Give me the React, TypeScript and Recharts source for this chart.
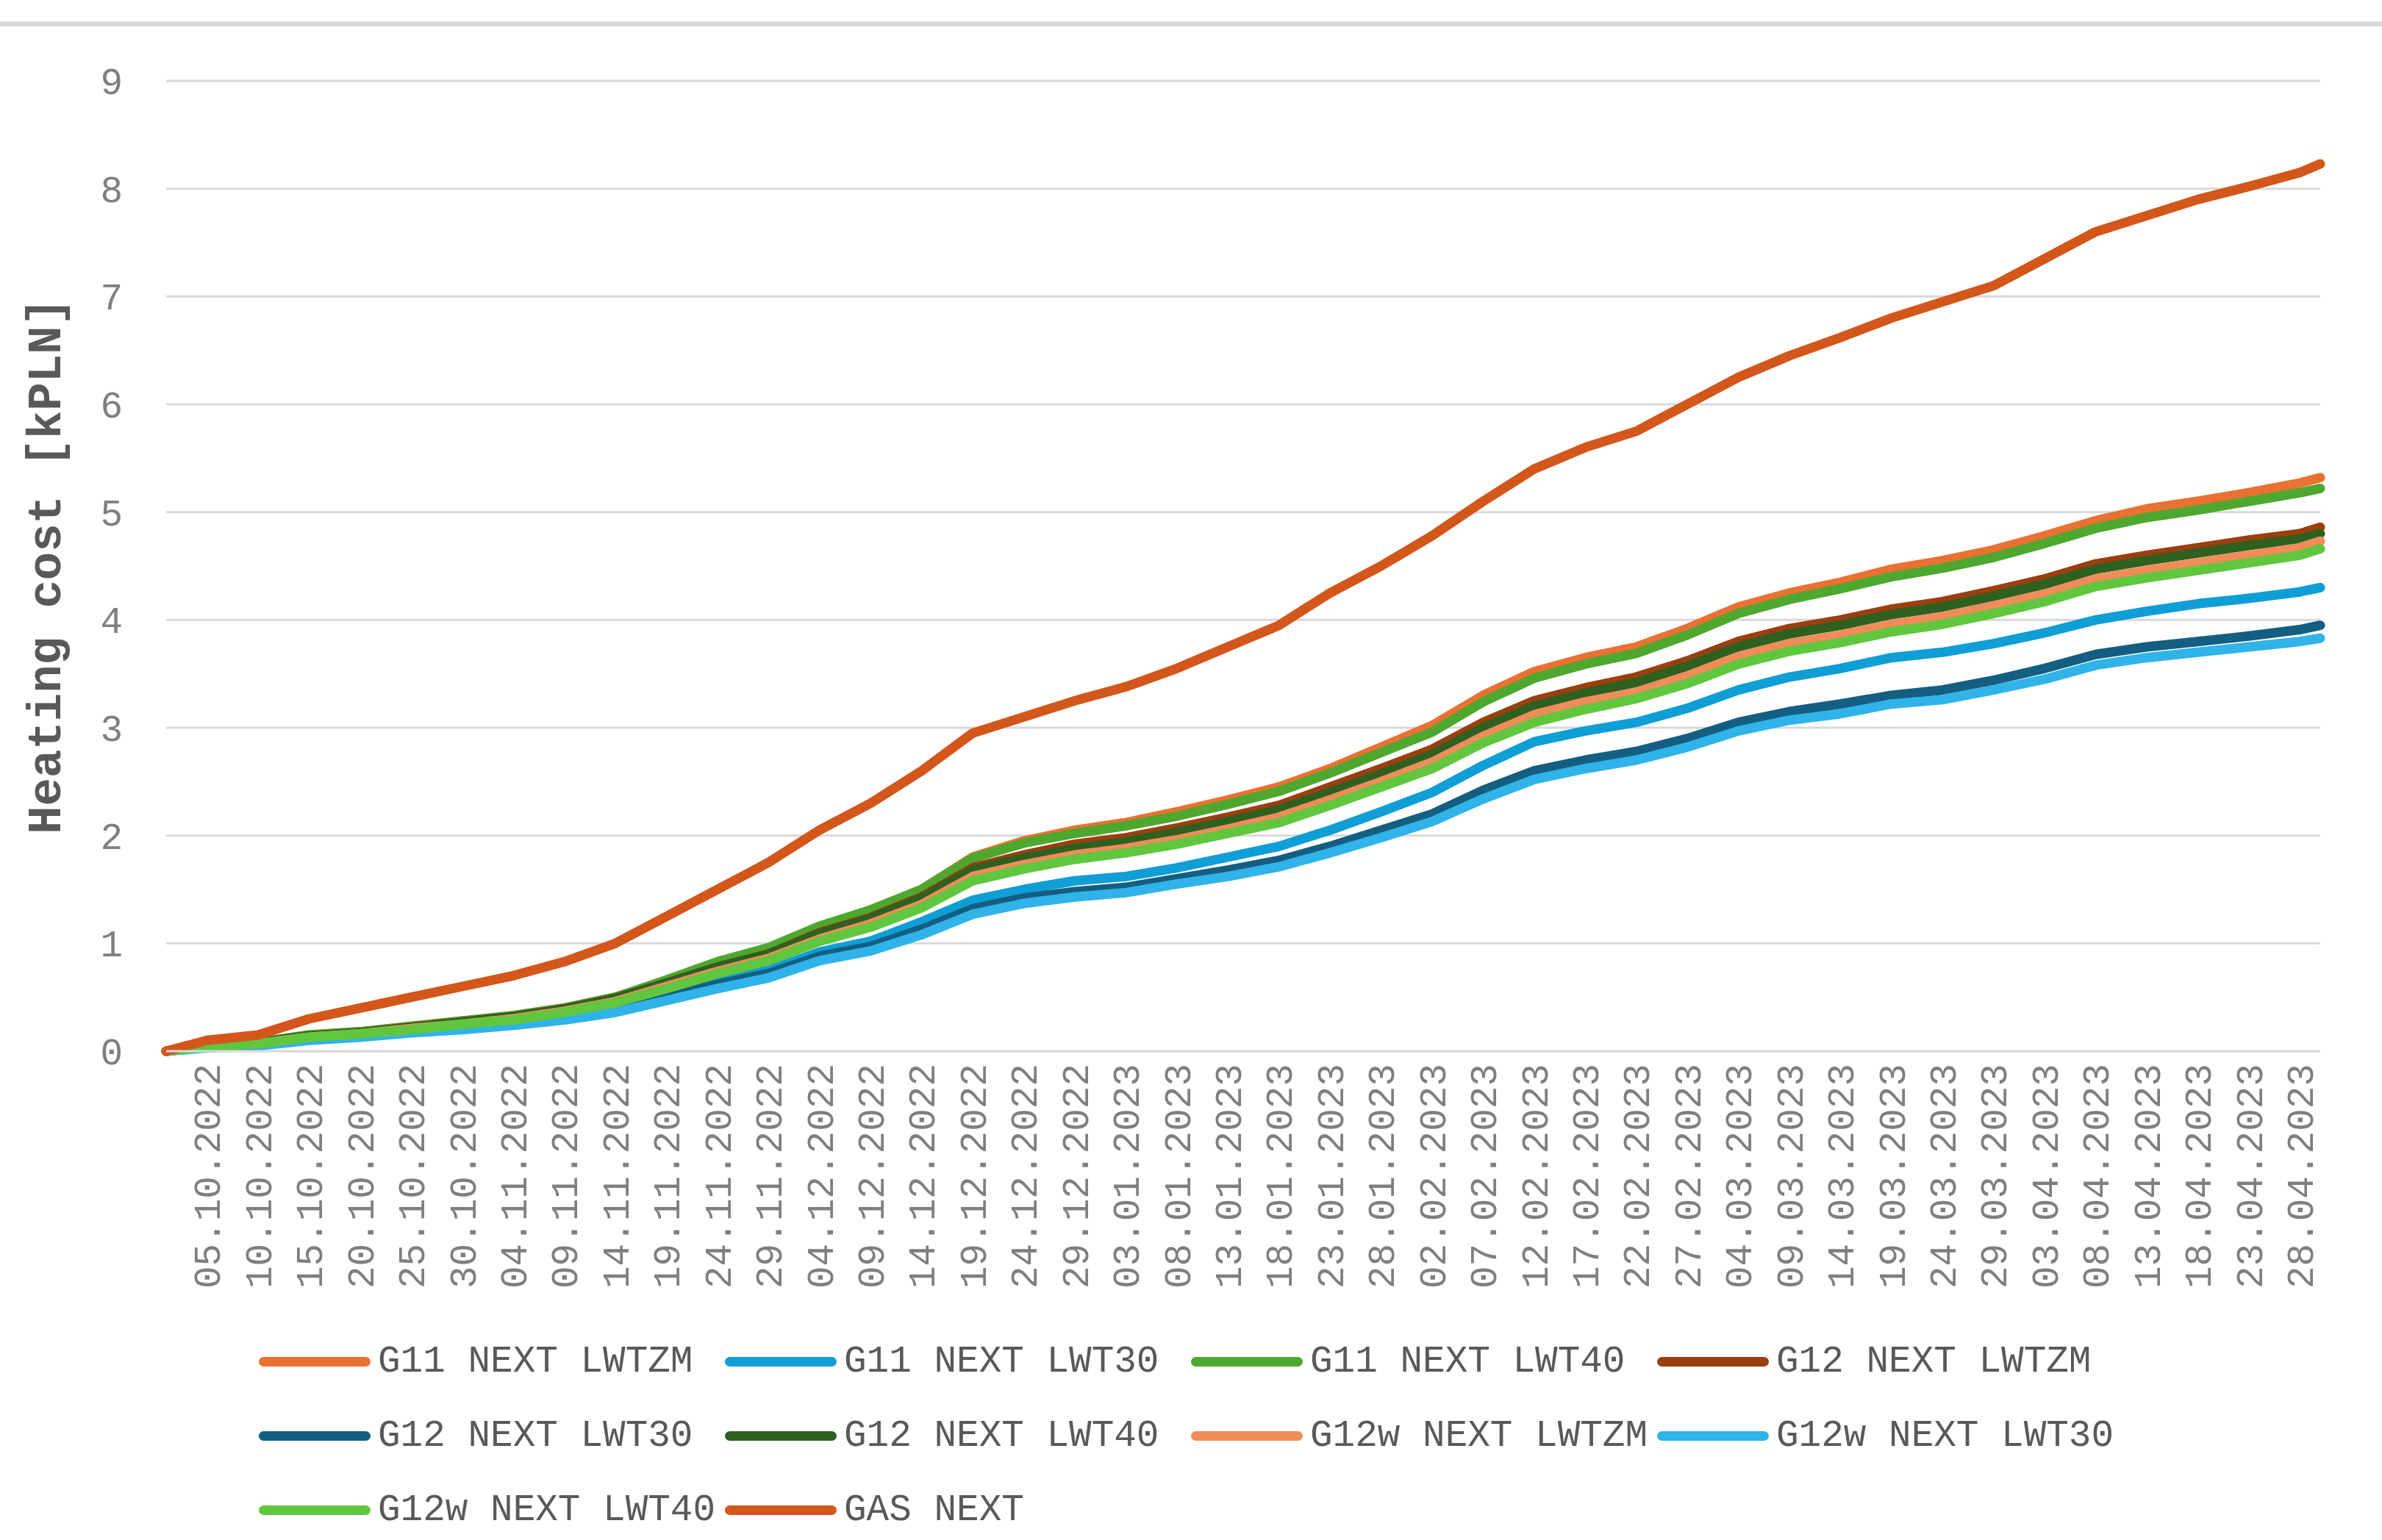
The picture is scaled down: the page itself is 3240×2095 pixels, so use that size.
import React from 'react';
import { LineChart, Line, XAxis, YAxis, CartesianGrid } from 'recharts';

// day index from 01.10.2022
const days = [0, 4, 9, 14, 19, 24, 29, 34, 39, 44, 49, 54, 59, 64, 69, 74, 79, 84, 89, 94, 99, 104, 109, 114, 119, 124, 129, 134, 139, 144, 149, 154, 159, 164, 169, 174, 179, 184, 189, 194, 199, 204, 209, 211];

const dateLabels = [
  '01.10.2022', '05.10.2022', '10.10.2022', '15.10.2022', '20.10.2022', '25.10.2022', '30.10.2022',
  '04.11.2022', '09.11.2022', '14.11.2022', '19.11.2022', '24.11.2022', '29.11.2022',
  '04.12.2022', '09.12.2022', '14.12.2022', '19.12.2022', '24.12.2022', '29.12.2022',
  '03.01.2023', '08.01.2023', '13.01.2023', '18.01.2023', '23.01.2023', '28.01.2023',
  '02.02.2023', '07.02.2023', '12.02.2023', '17.02.2023', '22.02.2023', '27.02.2023',
  '04.03.2023', '09.03.2023', '14.03.2023', '19.03.2023', '24.03.2023', '29.03.2023',
  '03.04.2023', '08.04.2023', '13.04.2023', '18.04.2023', '23.04.2023', '28.04.2023', '30.04.2023',
];

const tickDays = days.slice(1, days.length - 1);
const yTicks = [0, 1, 2, 3, 4, 5, 6, 7, 8, 9];

const g11Lwtzm = [0, 0.05, 0.08, 0.15, 0.18, 0.23, 0.28, 0.33, 0.4, 0.5, 0.65, 0.82, 0.95, 1.15, 1.3, 1.5, 1.8, 1.95, 2.05, 2.12, 2.22, 2.33, 2.45, 2.62, 2.82, 3.02, 3.3, 3.52, 3.65, 3.75, 3.92, 4.12, 4.25, 4.35, 4.47, 4.55, 4.65, 4.78, 4.92, 5.03, 5.1, 5.18, 5.27, 5.32];
const g11Lwt30 = [0, 0.04, 0.07, 0.12, 0.15, 0.19, 0.23, 0.27, 0.33, 0.4, 0.52, 0.65, 0.75, 0.92, 1.02, 1.2, 1.4, 1.5, 1.58, 1.62, 1.7, 1.8, 1.9, 2.05, 2.22, 2.4, 2.65, 2.87, 2.97, 3.05, 3.18, 3.35, 3.47, 3.55, 3.65, 3.7, 3.78, 3.88, 4.0, 4.08, 4.15, 4.2, 4.26, 4.3];
const g11Lwt40 = [0, 0.05, 0.08, 0.15, 0.18, 0.23, 0.28, 0.33, 0.4, 0.5, 0.66, 0.83, 0.96, 1.16, 1.31, 1.5, 1.79, 1.93, 2.02, 2.09, 2.18, 2.29, 2.41, 2.58, 2.77, 2.96, 3.24, 3.46, 3.59, 3.69, 3.86, 4.06, 4.19, 4.29, 4.4, 4.48, 4.58, 4.71, 4.85, 4.95, 5.02, 5.1, 5.18, 5.22];
const g12Lwtzm = [0, 0.05, 0.08, 0.14, 0.17, 0.22, 0.27, 0.32, 0.39, 0.49, 0.63, 0.78, 0.9, 1.1, 1.24, 1.43, 1.7, 1.82, 1.92, 1.98, 2.07, 2.17, 2.28, 2.45, 2.62, 2.8, 3.05, 3.25, 3.37, 3.47, 3.62, 3.8, 3.92, 4.0, 4.1, 4.17, 4.27, 4.38, 4.52, 4.6, 4.67, 4.74, 4.8, 4.86];
const g12Lwt30 = [0, 0.04, 0.06, 0.11, 0.14, 0.18, 0.22, 0.26, 0.31, 0.38, 0.5, 0.62, 0.72, 0.88, 0.97, 1.13, 1.32, 1.42, 1.48, 1.52, 1.6, 1.68, 1.77, 1.9, 2.05, 2.2, 2.42, 2.6, 2.7, 2.78, 2.9, 3.05, 3.15, 3.22, 3.3, 3.35, 3.44, 3.55, 3.68, 3.75, 3.8, 3.85, 3.91, 3.95];
const g12Lwt40 = [0, 0.05, 0.08, 0.14, 0.17, 0.22, 0.27, 0.32, 0.39, 0.49, 0.63, 0.78, 0.9, 1.09, 1.23, 1.42, 1.68, 1.79, 1.88, 1.94, 2.03, 2.13, 2.24, 2.4, 2.57, 2.75, 3.0, 3.2, 3.32, 3.42, 3.57, 3.75, 3.87, 3.95, 4.05, 4.12, 4.22, 4.33, 4.47, 4.55, 4.62, 4.69, 4.75, 4.8];
const g12wLwtzm = [0, 0.04, 0.07, 0.13, 0.16, 0.21, 0.25, 0.3, 0.37, 0.46, 0.6, 0.74, 0.86, 1.04, 1.18, 1.36, 1.62, 1.73, 1.82, 1.88, 1.96, 2.06, 2.17, 2.33, 2.5, 2.68, 2.92, 3.12, 3.24, 3.33, 3.48, 3.66, 3.78, 3.86, 3.96, 4.03, 4.13, 4.24, 4.38, 4.46, 4.53, 4.6, 4.67, 4.73];
const g12wLwt30 = [0, 0.03, 0.05, 0.1, 0.13, 0.17, 0.2, 0.24, 0.29, 0.36, 0.47, 0.58, 0.68, 0.84, 0.93, 1.08, 1.27, 1.37, 1.43, 1.47, 1.55, 1.62, 1.71, 1.84, 1.98, 2.13, 2.34, 2.52, 2.62, 2.7, 2.82, 2.97, 3.07, 3.13, 3.22, 3.26, 3.35, 3.45, 3.58, 3.65, 3.7, 3.75, 3.8, 3.83];
const g12wLwt40 = [0, 0.04, 0.07, 0.13, 0.16, 0.2, 0.25, 0.29, 0.36, 0.45, 0.58, 0.72, 0.84, 1.02, 1.15, 1.33, 1.58, 1.69, 1.78, 1.84, 1.92, 2.02, 2.12, 2.28, 2.45, 2.62, 2.86, 3.05, 3.17, 3.27, 3.41, 3.59, 3.71, 3.79, 3.89, 3.96, 4.06, 4.17, 4.31, 4.39, 4.46, 4.53, 4.6, 4.66];
const gasNext = [0, 0.1, 0.15, 0.3, 0.4, 0.5, 0.6, 0.7, 0.83, 1.0, 1.25, 1.5, 1.75, 2.05, 2.3, 2.6, 2.95, 3.1, 3.25, 3.38, 3.55, 3.75, 3.95, 4.25, 4.5, 4.78, 5.1, 5.4, 5.6, 5.75, 6.0, 6.25, 6.45, 6.62, 6.8, 6.95, 7.1, 7.35, 7.6, 7.75, 7.9, 8.02, 8.15, 8.23];

const seriesNames = [
  'G11 NEXT LWTZM', 'G11 NEXT LWT30', 'G11 NEXT LWT40', 'G12 NEXT LWTZM',
  'G12 NEXT LWT30', 'G12 NEXT LWT40', 'G12w NEXT LWTZM', 'G12w NEXT LWT30',
  'G12w NEXT LWT40', 'GAS NEXT',
];
const seriesValues = [g11Lwtzm, g11Lwt30, g11Lwt40, g12Lwtzm, g12Lwt30, g12Lwt40, g12wLwtzm, g12wLwt30, g12wLwt40, gasNext];
const seriesColors = ['#E97132', '#0F9ED5', '#4EA72E', '#9A3F10', '#145E82', '#2E6020', '#F08C5A', '#30B3E8', '#60C63E', '#D3561A'];

const seriesKeys = seriesNames.map((_, i) => `s${i}`);

const data = days.map((d, i) => {
  const row: Record<string, number | string> = { day: d, date: dateLabels[i] };
  seriesValues.forEach((arr, k) => {
    row[seriesKeys[k]] = arr[i];
  });
  return row;
});

const FONT = '"Liberation Mono", "Courier New", monospace';

const labelForDay = (d: number) => {
  const idx = days.indexOf(d);
  return idx >= 0 ? dateLabels[idx] : '';
};

const XTick = (props: any) => {
  const { x, y, payload } = props;
  return (
    <text
      x={x}
      y={y}
      transform={`rotate(-90, ${x}, ${y})`}
      textAnchor="end"
      dy="0.35em"
      fontFamily={FONT}
      fontSize={51}
      fill="#7f7f7f"
    >
      {labelForDay(payload.value)}
    </text>
  );
};

const YTitle = (props: any) => {
  const vb = props.viewBox || {};
  const cx = 60;
  const cy = (vb.y ?? 0) + (vb.height ?? 0) / 2;
  return (
    <text
      x={cx}
      y={cy}
      transform={`rotate(-90, ${cx}, ${cy})`}
      textAnchor="middle"
      dy="0.35em"
      fontFamily={FONT}
      fontSize={64}
      fontWeight="bold"
      fill="#595959"
    >
      Heating cost [kPLN]
    </text>
  );
};

export default function App() {
  return (
    <div style={{ position: 'absolute', left: 0, top: 0, width: 3240, height: 2095, background: '#ffffff', overflow: 'hidden' }}>
      <div style={{ position: 'absolute', left: 0, top: 29, width: 3240, height: 7, background: '#d9d9d9' }} />
      <div style={{ position: 'absolute', left: 0, top: 0 }}>
        <LineChart width={3240} height={1800} data={data} margin={{ top: 110, right: 84, bottom: 30, left: 0 }}>
          <CartesianGrid vertical={false} stroke="#d9d9d9" strokeWidth={3} />
          <XAxis
            dataKey="day"
            type="number"
            domain={[0, 211]}
            ticks={tickDays}
            interval={0}
            height={340}
            tickSize={0}
            tickMargin={17}
            tickLine={false}
            axisLine={{ stroke: '#d9d9d9', strokeWidth: 3 }}
            tick={<XTick />}
          />
          <YAxis
            domain={[0, 9]}
            ticks={yTicks}
            width={226}
            tickSize={0}
            tickMargin={59}
            axisLine={false}
            tickLine={false}
            tick={{ fontFamily: FONT, fontSize: 51, fill: '#7f7f7f' }}
            label={{ content: <YTitle /> }}
          />
          {seriesKeys.map((k, i) => (
            <Line
              key={k}
              dataKey={k}
              name={seriesNames[i]}
              type="linear"
              stroke={seriesColors[i]}
              strokeWidth={13}
              strokeLinecap="round"
              strokeLinejoin="round"
              dot={false}
              activeDot={false}
              isAnimationActive={false}
            />
          ))}
        </LineChart>
      </div>
      <div
        style={{
          position: 'absolute',
          left: 352,
          top: 1802,
          width: 2540,
          display: 'flex',
          flexWrap: 'wrap',
        }}
      >
        {seriesNames.map((n, i) => (
          <div key={n} style={{ width: 634, height: 101, display: 'flex', alignItems: 'center' }}>
            <div style={{ width: 152, height: 13, borderRadius: 7, background: seriesColors[i], marginRight: 10 }} />
            <span style={{ fontFamily: FONT, fontSize: 51, color: '#595959', whiteSpace: 'pre', lineHeight: 1 }}>{n}</span>
          </div>
        ))}
      </div>
    </div>
  );
}
